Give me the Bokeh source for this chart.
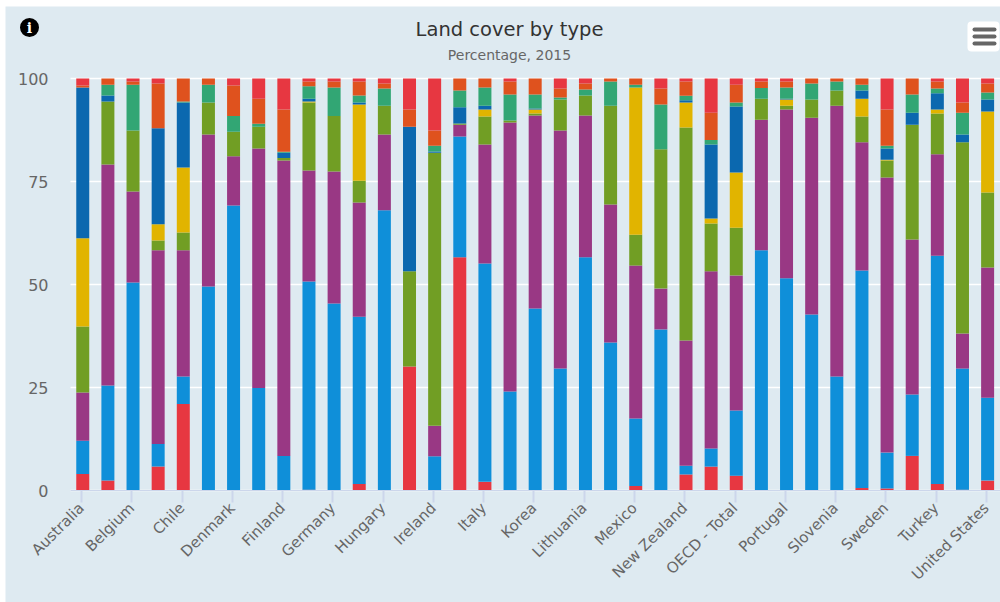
from bokeh.plotting import figure
from bokeh.models import ColumnDataSource, Label, BoxAnnotation, FixedTicker, Range1d
from bokeh.transform import dodge
from bokeh.embed import file_html
from bokeh.resources import INLINE

countries = ["Australia","Austria","Belgium","Canada","Chile","Czech Republic","Denmark","Estonia","Finland","France",
             "Germany","Greece","Hungary","Iceland","Ireland","Israel","Italy","Japan","Korea","Latvia",
             "Lithuania","Luxembourg","Mexico","Netherlands","New Zealand","Norway","OECD - Total","Poland","Portugal","Slovak Republic",
             "Slovenia","Spain","Sweden","Switzerland","Turkey","United Kingdom","United States"]

artificial = [4.0,2.4,0,5.8,21.0,0,0,0,0,0.2, 0,1.6,0,30.1,0,56.6,2.1,0,0,0, 0,0,1.1,0,3.9,5.8,3.6,0,0,0, 0,0.6,0.5,8.4,1.6,0.2,2.4]
cropland = [8.1,23.1,50.5,5.5,6.7,49.5,69.2,24.9,8.4,50.5, 45.4,40.6,68.0,0,8.3,29.3,53.0,24.0,44.2,29.6, 56.6,35.9,16.4,39.1,2.1,4.4,15.8,58.3,51.5,42.7, 27.7,52.8,8.7,14.9,55.4,29.4,20.1]
forest = [11.7,53.6,22.1,47.0,30.6,36.9,11.9,58.1,71.7,27.0, 32.0,27.7,18.4,0,7.4,2.9,28.9,65.3,46.8,57.8, 34.4,33.5,37.1,9.9,30.4,43.0,32.8,31.7,41.0,47.8, 65.7,31.1,66.8,37.6,24.6,8.5,31.6]
grassland = [16.0,15.3,14.8,2.4,4.3,7.8,6.0,5.3,0.6,16.5, 13.5,5.3,7.0,23.1,66.3,0.3,6.8,0.5,0.5,7.5, 4.9,24.0,7.5,33.8,51.7,11.6,11.6,5.1,0.9,4.4, 3.7,6.3,4.1,27.9,9.9,46.4,18.2]
shrubland = [21.4,0,0,3.9,15.8,0,0,0,0,0.2, 0,18.5,0,0,0,0,1.7,0,1.0,0, 0,0,35.7,0,6.1,1.2,13.4,0,1.5,0, 0,4.3,0.2,0,1.0,0,19.7]
sparse = [36.6,1.5,0,23.3,15.8,0,0,0,1.3,0.7, 0,0.5,0,35.1,0.3,3.9,0.9,0,0.2,0, 0,0,0,0,0.5,18.0,16.0,0,0.2,0, 0,2.0,2.7,2.9,3.9,1.9,2.9]
wetland = [0,2.6,11.1,0,0.2,4.3,3.8,0.7,0.2,3.0, 6.9,1.7,4.2,0,1.4,4.1,4.4,6.3,3.4,0.5, 1.4,5.9,0.7,10.9,1.1,1.1,1.0,2.6,2.7,3.9, 2.2,1.4,0.7,4.4,1.2,5.3,1.7]
water = [0.5,1.5,0.8,10.9,5.6,1.5,7.4,6.1,10.3,1.2, 1.5,3.4,1.2,4.2,3.7,2.9,2.2,3.2,3.9,2.2, 1.5,0.7,1.5,3.9,3.5,6.6,4.3,1.6,1.5,1.2, 0.7,1.5,8.8,3.9,1.7,2.5,2.2]
bare = [1.7,0,0.7,1.2,0,0,1.7,4.9,7.5,0.7, 0.7,0.7,1.2,7.5,12.6,0,0,0.7,0,2.4, 1.2,0,0,2.4,0.7,8.3,1.5,0.7,0.7,0, 0,0,7.5,0,0.7,5.8,1.2]

series_names = ["Artificial","Cropland","Forest","Grassland","Shrubland","Sparse","Wetland","Water","Bare"]
series_values = [artificial, cropland, forest, grassland, shrubland, sparse, wetland, water, bare]
colors = ["#E73741","#0F8FD9","#993884","#719E24","#E1B400","#0B68AF","#32A674","#DF521E","#E73741"]
y_ticks = [0, 25, 50, 75, 100]

BG = "#DEEAF1"
OX, OY = 5, 6  # position of the panel
W, H = 1000 - OX, 602 - OY
PX_Y = 4.12    # pixels per percent
PX_X = 25.135  # pixels per country
X0, X1 = -0.4375, 36.5625  # plot area in index units
Y_END = (490 - OY) / PX_Y

data = {"x": list(range(len(countries)))}
data.update(dict(zip(series_names, series_values)))
source = ColumnDataSource(data)

p = figure(width=W, height=H, output_backend="svg", toolbar_location=None,
           x_range=Range1d(X1 - W / PX_X, X1), y_range=Range1d(Y_END - H / PX_Y, Y_END),
           min_border_left=0, min_border_right=0, min_border_top=0, min_border_bottom=0,
           background_fill_color=BG, border_fill_color=BG, outline_line_color=None,
           margin=(OY, 0, 0, OX))

p.grid.visible = False
p.segment(x0=[X0] * len(y_ticks), x1=[X1] * len(y_ticks), y0=y_ticks, y1=y_ticks,
          line_color="#FFFFFF", line_width=1.5, level="underlay")

p.vbar_stack(series_names, x=dodge("x", 0.05), width=0.517, color=colors, source=source, line_color=None)

xa = p.xaxis[0]
xa.fixed_location = 0
xa.bounds = (X0, X1)
xa.ticker = FixedTicker(ticks=list(range(0, len(countries), 2)))
xa.major_label_overrides = {i: c for i, c in enumerate(countries)}
xa.major_label_orientation = 0.785398
xa.major_label_text_font = "DejaVu Sans"
xa.major_label_text_font_size = "15px"
xa.major_label_text_color = "#666666"
xa.axis_line_color = "#CCD6EB"
xa.major_tick_line_color = "#CCD6EB"
xa.major_tick_line_width = 2
xa.major_tick_in = 0
xa.major_tick_out = 12
xa.minor_tick_line_color = None
xa.major_label_standoff = 3

ya = p.yaxis[0]
ya.fixed_location = X0
ya.ticker = FixedTicker(ticks=y_ticks)
ya.axis_line_color = None
ya.major_tick_line_color = None
ya.major_tick_in = 0
ya.major_tick_out = 0
ya.minor_tick_line_color = None
ya.major_label_text_font = "DejaVu Sans"
ya.major_label_text_font_size = "16px"
ya.major_label_text_color = "#666666"
ya.major_label_standoff = 22

def label(text, cx, cy, size, color, style="normal", font="DejaVu Sans"):
    p.add_layout(Label(x=cx - OX, y=602 - cy, x_units="screen", y_units="screen", text=text,
                       text_font=font, text_font_size=size, text_color=color, text_font_style=style,
                       text_align="center", text_baseline="middle"))

def box(left, top, right, bottom, color, radius=0):
    p.add_layout(BoxAnnotation(left=left - OX, right=right - OX, top=602 - top, bottom=602 - bottom,
                               left_units="screen", right_units="screen", top_units="screen", bottom_units="screen",
                               fill_color=color, fill_alpha=1, line_color=None, border_radius=radius, level="annotation"))

label("Land cover by type", 509, 29, "19.5px", "#333333")
label("Percentage, 2015", 509, 54, "14px", "#666666")

# info icon
box(19.5, 17.5, 38.5, 36.5, "#000000", 10)
label("i", 29, 27, "14px", "#FFFFFF", "bold", "DejaVu Serif")
# context-menu button
box(967, 21, 999, 51, "#FFFFFF", 4)
for yy in (29, 36, 43):
    box(972, yy - 2, 996, yy + 2, "#666666", 2)

open("out.html", "w").write(file_html(p, INLINE))
